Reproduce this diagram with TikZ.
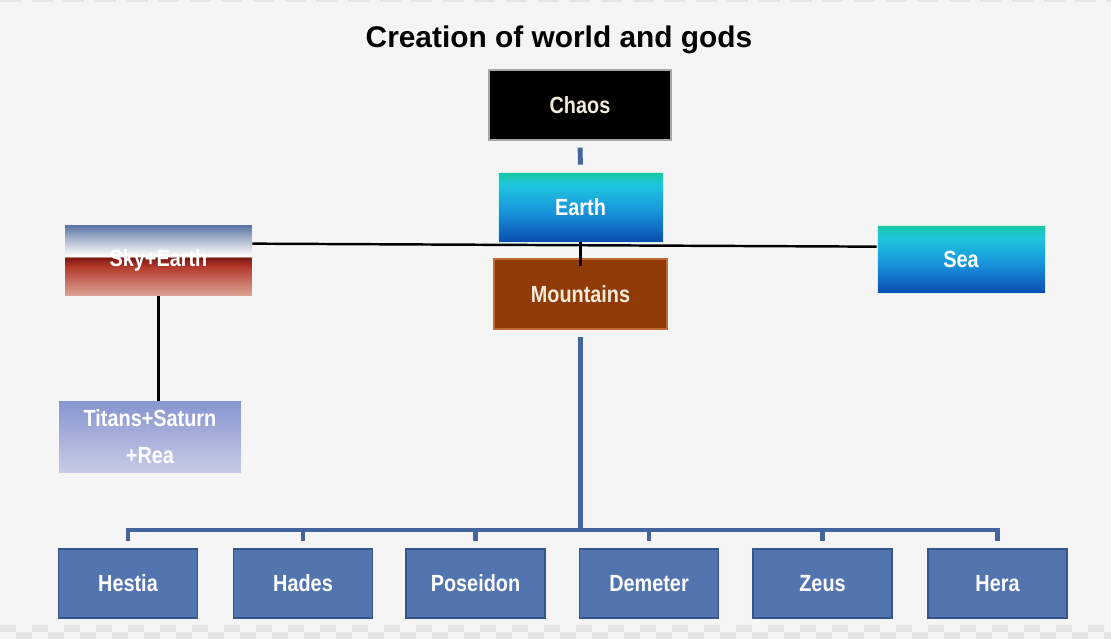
\documentclass[tikz,border=0pt]{standalone}
\usepackage{fontspec}
\setmainfont{Liberation Sans}
\newfontfamily\narrowfont{Liberation Sans}[FakeStretch=0.85]
\usetikzlibrary{calc}

\definecolor{bg}{HTML}{F6F5F5}
\definecolor{chk}{HTML}{E4E4E4}
\definecolor{cream}{HTML}{F3EBDA}
\definecolor{godfill}{HTML}{5275B0}
\definecolor{godline}{HTML}{36558C}
\definecolor{stemblue}{HTML}{43649C}
\definecolor{mount}{HTML}{8F3A07}
\definecolor{mountline}{HTML}{C06A34}
\definecolor{earthT}{HTML}{15C99C}
\definecolor{earthC}{HTML}{1FC6DE}
\definecolor{earthM}{HTML}{1895DC}
\definecolor{earthD}{HTML}{0A4DAE}
\definecolor{skyB}{HTML}{5A72A2}
\definecolor{skyL}{HTML}{C2CBDB}
\definecolor{skyDR}{HTML}{7A170F}
\definecolor{skyR}{HTML}{B3382A}
\definecolor{skyP}{HTML}{DCA596}
\definecolor{titT}{HTML}{8795CF}
\definecolor{titB}{HTML}{C7CBE7}

\pgfdeclareverticalshading{earthsh}{100bp}{color(0bp)=(earthD); color(25bp)=(earthD); color(47bp)=(earthM); color(66bp)=(earthC); color(75bp)=(earthT); color(100bp)=(earthT)}
\pgfdeclareverticalshading{skysh}{100bp}{color(0bp)=(skyP); color(25bp)=(skyP); color(46bp)=(skyR); color(52bp)=(skyDR); color(53bp)=(white); color(62bp)=(skyL); color(75bp)=(skyB); color(100bp)=(skyB)}

\begin{document}
\begin{tikzpicture}[x=0.02cm,y=-0.02cm,
  box/.style={inner sep=0pt,minimum height=1.4cm,text=white,
    font=\narrowfont\bfseries\fontsize{13.3}{16}\selectfont},
  god/.style={box,fill=godfill,draw=godline,line width=0.8pt,minimum width=2.78cm,minimum height=1.38cm},
  water/.style={box,shading=earthsh,draw=earthT!20!white,line width=0.4pt},
  stem/.style={stemblue,line width=2.8pt},
  bline/.style={black,line width=1.4pt}]
  % background
  \useasboundingbox (0,0) rectangle (1111,639);
  \fill[bg] (0,0) rectangle (1111,639);
  \foreach \x in {0,32,...,1104} \fill[chk] (\x,625) rectangle ++(16,7);
  \foreach \x in {16,48,...,1104} \fill[chk] (\x,632) rectangle ++(16,7);
  \draw[chk,line width=1.5pt,dash pattern=on 12pt off 6pt] (0,1) -- (1111,1);

  \node[font=\bfseries\fontsize{17}{20}\selectfont,anchor=base] (title) at (559,47) {Creation of world and gods};

  \node[box,fill=black,draw=gray!70,line width=0.6pt,minimum width=3.64cm,text=cream] (Chaos) at (580,105) {Chaos};
  \node[water,minimum width=3.3cm] (Earth) at (580.5,207) {Earth};
  \node[box,fill=mount,draw=mountline,line width=0.6pt,minimum width=3.46cm,text=cream] (Mountains) at (580.5,294) {Mountains};
  \node[box,shading=skysh,minimum width=3.74cm,minimum height=1.42cm] (SkyEarth) at (158.5,260.5) {Sky+Earth};
  \node[box,top color=titT,bottom color=titB,minimum width=3.64cm,minimum height=1.42cm,align=center] (Titans) at (150,436.5) {Titans+Saturn\\[5pt]+Rea};
  \node[water,minimum width=3.36cm,minimum height=1.36cm] (Sea) at (961,259) {Sea};

  \node[god] (Hestia) at (128,583.5) {Hestia};
  \node[god] (Hades) at (303,583.5) {Hades};
  \node[god] (Poseidon) at (475.5,583.5) {Poseidon};
  \node[god] (Demeter) at (649,583.5) {Demeter};
  \node[god] (Zeus) at (822.5,583.5) {Zeus};
  \node[god] (Hera) at (997.5,583.5) {Hera};

  % blue links
  \draw[stem,shorten <=4pt,shorten >=4pt] (Chaos.south) -- (Earth.north);
  \draw[stem,shorten <=4pt] (Mountains.south) -- (Mountains.south |- 0,530);
  \draw[stem,shorten <=4pt,shorten >=4pt] (Hestia.north) |- (Hera.north |- 0,530) -- (Hera.north);
  \foreach \g in {Hades,Poseidon,Demeter,Zeus}
    \draw[stem,shorten <=4pt] (\g.north) -- (\g.north |- 0,530);

  % black links
  \draw[bline] ($(SkyEarth.north east)+(0,19)$) -- ($(Sea.north west)+(0,22)$);
  \draw[bline] (Earth.south) -- ([yshift=-4.5pt]Mountains.north);
  \draw[bline] (SkyEarth.south) -- (SkyEarth.south |- Titans.north);
\end{tikzpicture}
\end{document}
